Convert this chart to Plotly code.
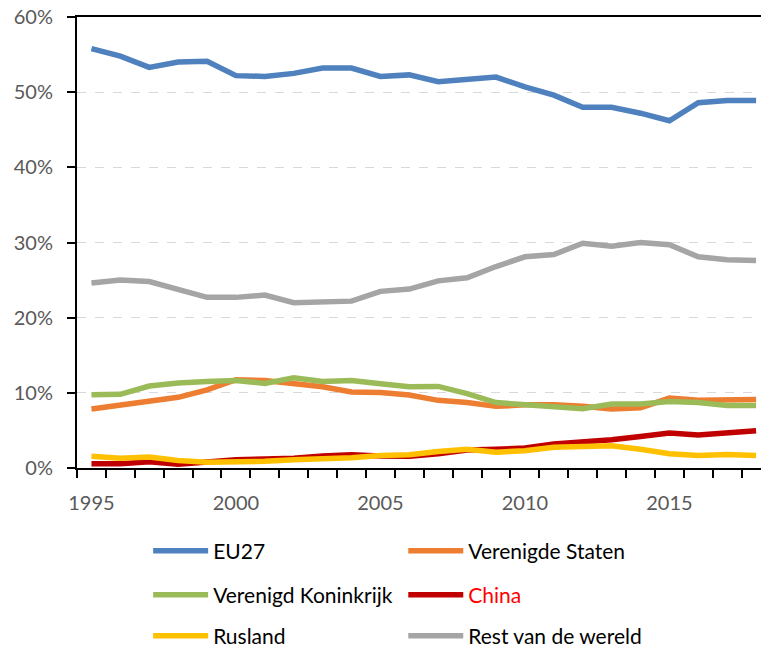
import plotly.graph_objects as go

years = list(range(1995, 2019))
eu27 = [55.8, 54.8, 53.3, 54.0, 54.1, 52.2, 52.1, 52.5, 53.2, 53.2, 52.1, 52.3, 51.4, 51.7,
        52.0, 50.7, 49.6, 48.0, 48.0, 47.2, 46.2, 48.6, 48.9, 48.9]
vs = [7.85, 8.4, 8.85, 9.4, 10.4, 11.75, 11.65, 11.2, 10.8, 10.1, 10.05, 9.7, 9.0, 8.7,
      8.2, 8.4, 8.4, 8.2, 7.85, 8.0, 9.3, 9.0, 9.0, 9.1]
vk = [9.75, 9.8, 10.9, 11.3, 11.5, 11.65, 11.25, 12.0, 11.5, 11.65, 11.2, 10.8, 10.85, 9.9,
      8.7, 8.4, 8.2, 7.9, 8.5, 8.5, 8.85, 8.7, 8.3, 8.3]
china = [0.57, 0.57, 0.84, 0.5, 0.8, 1.1, 1.2, 1.3, 1.6, 1.75, 1.6, 1.55, 1.9, 2.4,
         2.5, 2.65, 3.2, 3.45, 3.75, 4.2, 4.65, 4.4, 4.65, 4.95]
rusland = [1.55, 1.3, 1.45, 1.0, 0.75, 0.75, 0.9, 1.1, 1.2, 1.35, 1.65, 1.75, 2.2, 2.5,
           2.1, 2.3, 2.75, 2.8, 2.95, 2.5, 1.9, 1.65, 1.8, 1.65]
rest = [24.6, 25.0, 24.8, 23.8, 22.7, 22.7, 23.0, 22.0, 22.1, 22.2, 23.5, 23.8, 24.9, 25.3,
        26.8, 28.1, 28.4, 29.9, 29.5, 30.0, 29.7, 28.1, 27.7, 27.6]

names = ["EU27", "Verenigde Staten", "Verenigd Koninkrijk",
         '<span style="color:#FF0000">China</span>', "Rusland", "Rest van de wereld"]
values = [eu27, vs, vk, china, rusland, rest]
colors = ["#4E81BD", "#ED7D31", "#9BBB59", "#C00000", "#FFC000", "#A5A5A5"]
legend_ids = ["legend", "legend2", "legend3", "legend4", "legend5", "legend6"]

fig = go.Figure()
for name, vals, color, leg in zip(names, values, colors, legend_ids):
    fig.add_trace(go.Scatter(
        x=years, y=[v / 100 for v in vals], mode="lines", name=name,
        line=dict(color=color, width=5.5), legend=leg,
    ))

font_family = "Lato, 'Liberation Sans', sans-serif"
tick_font = dict(family=font_family, size=20, color="#595959")
leg_font = dict(family=font_family, size=21, color="#000000")

col_x = [0.104, 0.477]
row_y = [-0.184, -0.282, -0.3725]

legends = {}
for i, lid in enumerate(legend_ids):
    legends[lid] = dict(
        orientation="h", x=col_x[i % 2], xanchor="left", y=row_y[i // 2], yanchor="middle",
        font=leg_font, bgcolor="rgba(0,0,0,0)", itemwidth=55, borderwidth=0,
    )

fig.update_layout(
    width=761, height=650,
    margin=dict(l=77, r=0, t=17, b=182, autoexpand=False),
    plot_bgcolor="white", paper_bgcolor="white",
    showlegend=True,
    **legends,
    xaxis=dict(
        range=[1994.5, 2018.17],
        tickvals=[1995, 2000, 2005, 2010, 2015],
        ticktext=["1995", "2000", "2005", "2010", "2015"],
        ticks="outside", ticklen=16, tickcolor="rgba(0,0,0,0)",
        minor=dict(tickvals=[1994.5 + i for i in range(25)], ticks="outside",
                   ticklen=8, tickcolor="black", tickwidth=1.5, showgrid=False),
        showline=True, linecolor="black", linewidth=2, mirror=True,
        showgrid=False, zeroline=False, tickfont=tick_font,
        ticklabeloverflow="allow",
    ),
    yaxis=dict(
        range=[0, 0.6], dtick=0.1, tickformat=".0%",
        ticks="outside", ticklen=8, tickcolor="black", tickwidth=1.5,
        showline=True, linecolor="black", linewidth=2,
        showgrid=True, gridcolor="#D9D9D9", griddash="dash", gridwidth=1,
        zeroline=False, tickfont=tick_font, ticklabelstandoff=10,
        ticklabeloverflow="allow",
    ),
)

fig.write_html(
    "out.html",
    config={"displayModeBar": False},
    post_script="document.body.style.margin='0px';document.body.style.overflow='hidden';",
)
